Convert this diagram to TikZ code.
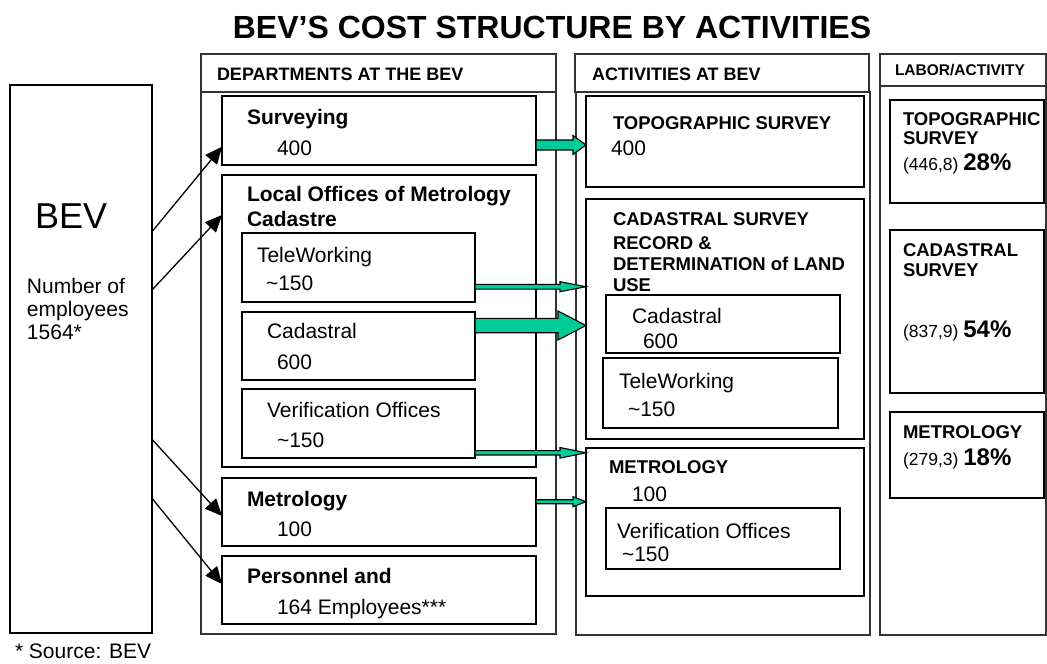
\documentclass[tikz,border=0pt]{standalone}
\usepackage{fontspec}
\setmainfont{Liberation Sans}
\usetikzlibrary{arrows.meta,calc}
\definecolor{tealg}{RGB}{0,204,153}
\newcommand\fs[1]{\fontsize{#1}{#1}\selectfont}
% #1 from node, #2 to node, #3 y (px), #4 shaft half, #5 head half, #6 head length
\newcommand\garr[6]{\draw[garrow] let \p1=(#1.east), \p2=(#2.west) in
 (\x1,{-(#3-#4)*1pt}) -- ({\x2-#6*1pt},{-(#3-#4)*1pt}) -- ({\x2-#6*1pt},{-(#3-#5)*1pt})
 -- (\x2,{-#3*1pt}) -- ({\x2-#6*1pt},{-(#3+#5)*1pt}) -- ({\x2-#6*1pt},{-(#3+#4)*1pt})
 -- (\x1,{-(#3+#4)*1pt}) -- cycle;}
\begin{document}
\begin{tikzpicture}[x=1pt,y=-1pt,
  bx/.style={draw, line width=1.6pt, anchor=north west, inner sep=0, outer sep=0},
  col/.style={bx, draw=black!80, line width=1.5pt},
  t/.style={anchor=base west, inner sep=0, outer sep=0, font=\fs{21}},
  tb/.style={t, font=\fs{21}\bfseries},
  th/.style={t, font=\fs{18}\bfseries},
  ta/.style={t, font=\fs{18.5}\bfseries},
  blk/.style={line width=1.3pt, -{Triangle[length=17pt,width=15pt]}},
  garrow/.style={fill=tealg, draw=black, line width=1.1pt, line join=miter}]
\useasboundingbox (0,0) rectangle (1047,664);
% title
\node[anchor=base, inner sep=0, font=\fs{32}\bfseries] (title) at (552,38) {BEV'S COST STRUCTURE BY ACTIVITIES};
% BEV box
\node[bx, minimum width=142pt, minimum height=548pt] (bev) at (10,85) {};
\node[t, font=\fs{36}] (bevt) at (35,228) {BEV};
\node[t] (n1) at (27,293) {Number of};
\node[t] (n2) at (27,316) {employees};
\node[t] (n3) at (27,339) {1564*};
\node[t] (src) at (15,658) {* Source: BEV};
% departments column
\node[col, minimum width=355pt, minimum height=580pt] (dept) at (201,54) {};
\draw[black!80, line width=1.5pt] ([yshift=-38pt]dept.north west) -- ([yshift=-38pt]dept.north east);
\node[th] (deptt) at (217,80.7) {DEPARTMENTS AT THE BEV};
\node[bx, minimum width=314pt, minimum height=69pt] (surv) at (222,96) {};
\node[bx, minimum width=314pt, minimum height=292pt] (local) at (222,175) {};
\node[bx, minimum width=233pt, minimum height=69pt] (tele) at (242,233) {};
\node[bx, minimum width=233pt, minimum height=68pt] (cad) at (242,312) {};
\node[bx, minimum width=233pt, minimum height=69pt] (verif) at (242,389) {};
\node[bx, minimum width=314pt, minimum height=68pt] (metro) at (222,478) {};
\node[bx, minimum width=314pt, minimum height=68pt] (pers) at (222,556) {};
\node[tb] (survt) at (247,124) {Surveying};
\node[t] (survn) at (277,155) {400};
\node[tb] (localt) at (247,201.7) {Local Offices of Metrology};
\node[tb] (localt2) at (247,226) {Cadastre};
\node[t] (telet) at (257,262.3) {TeleWorking};
\node[t] (telen) at (266,290.7) {\textasciitilde150};
\node[t] (cadt) at (267,338.3) {Cadastral};
\node[t] (cadn) at (277,369.3) {600};
\node[t] (verift) at (267,417.7) {Verification Offices};
\node[t] (verifn) at (277,447.3) {\textasciitilde150};
\node[tb] (metrot) at (247,506) {Metrology};
\node[t] (metron) at (277,536.7) {100};
\node[tb] (perst) at (247,583.3) {Personnel and};
\node[t] (persn) at (277,614) {164 Employees***};
% activities column
\node[col, minimum width=294pt, minimum height=38pt] (acth) at (575,54) {};
\node[col, minimum width=294pt, minimum height=543pt] (act) at (576,92) {};
\node[th] (actt) at (592,80.7) {ACTIVITIES AT BEV};
\node[bx, minimum width=278pt, minimum height=91pt] (topo) at (586,96) {};
\node[bx, minimum width=278pt, minimum height=240pt] (cadsurv) at (586,199) {};
\node[bx, minimum width=234pt, minimum height=58pt] (cadin) at (606,295) {};
\node[bx, minimum width=235pt, minimum height=70pt] (telein) at (603,358) {};
\node[bx, minimum width=278pt, minimum height=148pt] (metact) at (586,448) {};
\node[bx, minimum width=234pt, minimum height=61pt] (verin) at (606,508) {};
\node[ta] (topot) at (613,129.3) {TOPOGRAPHIC SURVEY};
\node[t] (topon) at (611,155) {400};
\node[ta] (cs1) at (613,225) {CADASTRAL SURVEY};
\node[ta] (cs2) at (613,249.3) {RECORD \&};
\node[ta] (cs3) at (613,270) {DETERMINATION of LAND};
\node[ta] (cs4) at (613,291.7) {USE};
\node[t] (cadint) at (632,323.3) {Cadastral};
\node[t] (cadinn) at (643,348.3) {600};
\node[t] (teleint) at (619,388.3) {TeleWorking};
\node[t] (teleinn) at (628,416.7) {\textasciitilde150};
\node[ta] (metactt) at (609,473.3) {METROLOGY};
\node[t] (metactn) at (632,501.7) {100};
\node[t] (verint) at (617,538.3) {Verification Offices};
\node[t] (verinn) at (622,561.7) {\textasciitilde150};
% labor column
\node[col, minimum width=166pt, minimum height=32pt] (labh) at (880,54) {};
\node[col, minimum width=166pt, minimum height=549pt] (lab) at (880,86) {};
\node[t, font=\fs{15.5}\bfseries] (labt) at (895,75.7) {LABOR/ACTIVITY};
\node[bx, minimum width=154pt, minimum height=103pt] (ltopo) at (890,100) {};
\node[bx, minimum width=154pt, minimum height=163pt] (lcad) at (890,230) {};
\node[bx, minimum width=154pt, minimum height=86pt] (lmet) at (890,412) {};
\node[ta] (lt1) at (903,125) {TOPOGRAPHIC};
\node[ta] (lt2) at (903,144) {SURVEY};
\node[t, font=\fs{17.5}] (lt3) at (903,170.7) {(446,8) {\fs{24}\bfseries 28\%}};
\node[ta] (lc1) at (903,256.7) {CADASTRAL};
\node[ta] (lc2) at (903,276.7) {SURVEY};
\node[t, font=\fs{17.5}] (lc3) at (903,337.3) {(837,9) {\fs{24}\bfseries 54\%}};
\node[ta] (lm1) at (903,438.3) {METROLOGY};
\node[t, font=\fs{17.5}] (lm2) at (903,465) {(279,3) {\fs{24}\bfseries 18\%}};
% black arrows
\coordinate (s1) at (152,231.7); \coordinate (e1) at (222,146.7);
\coordinate (s2) at (152,290);   \coordinate (e2) at (222,215);
\coordinate (s3) at (152,439.3); \coordinate (e3) at (222,516);
\coordinate (s4) at (152,498.3); \coordinate (e4) at (222,584);
\draw[blk] (s1) -- (e1);
\draw[blk] (s2) -- (e2);
\draw[blk] (s3) -- (e3);
\draw[blk] (s4) -- (e4);
% green block arrows
\garr{surv}{topo}{145}{5}{9.5}{13}
\garr{tele}{cadsurv}{286.7}{2.4}{5}{26}
\garr{cad}{cadsurv}{325.5}{7.2}{14.5}{28}
\garr{verif}{metact}{452.8}{2.2}{5.3}{26}
\garr{metro}{metact}{501.7}{2}{5}{13}
\end{tikzpicture}
\end{document}
